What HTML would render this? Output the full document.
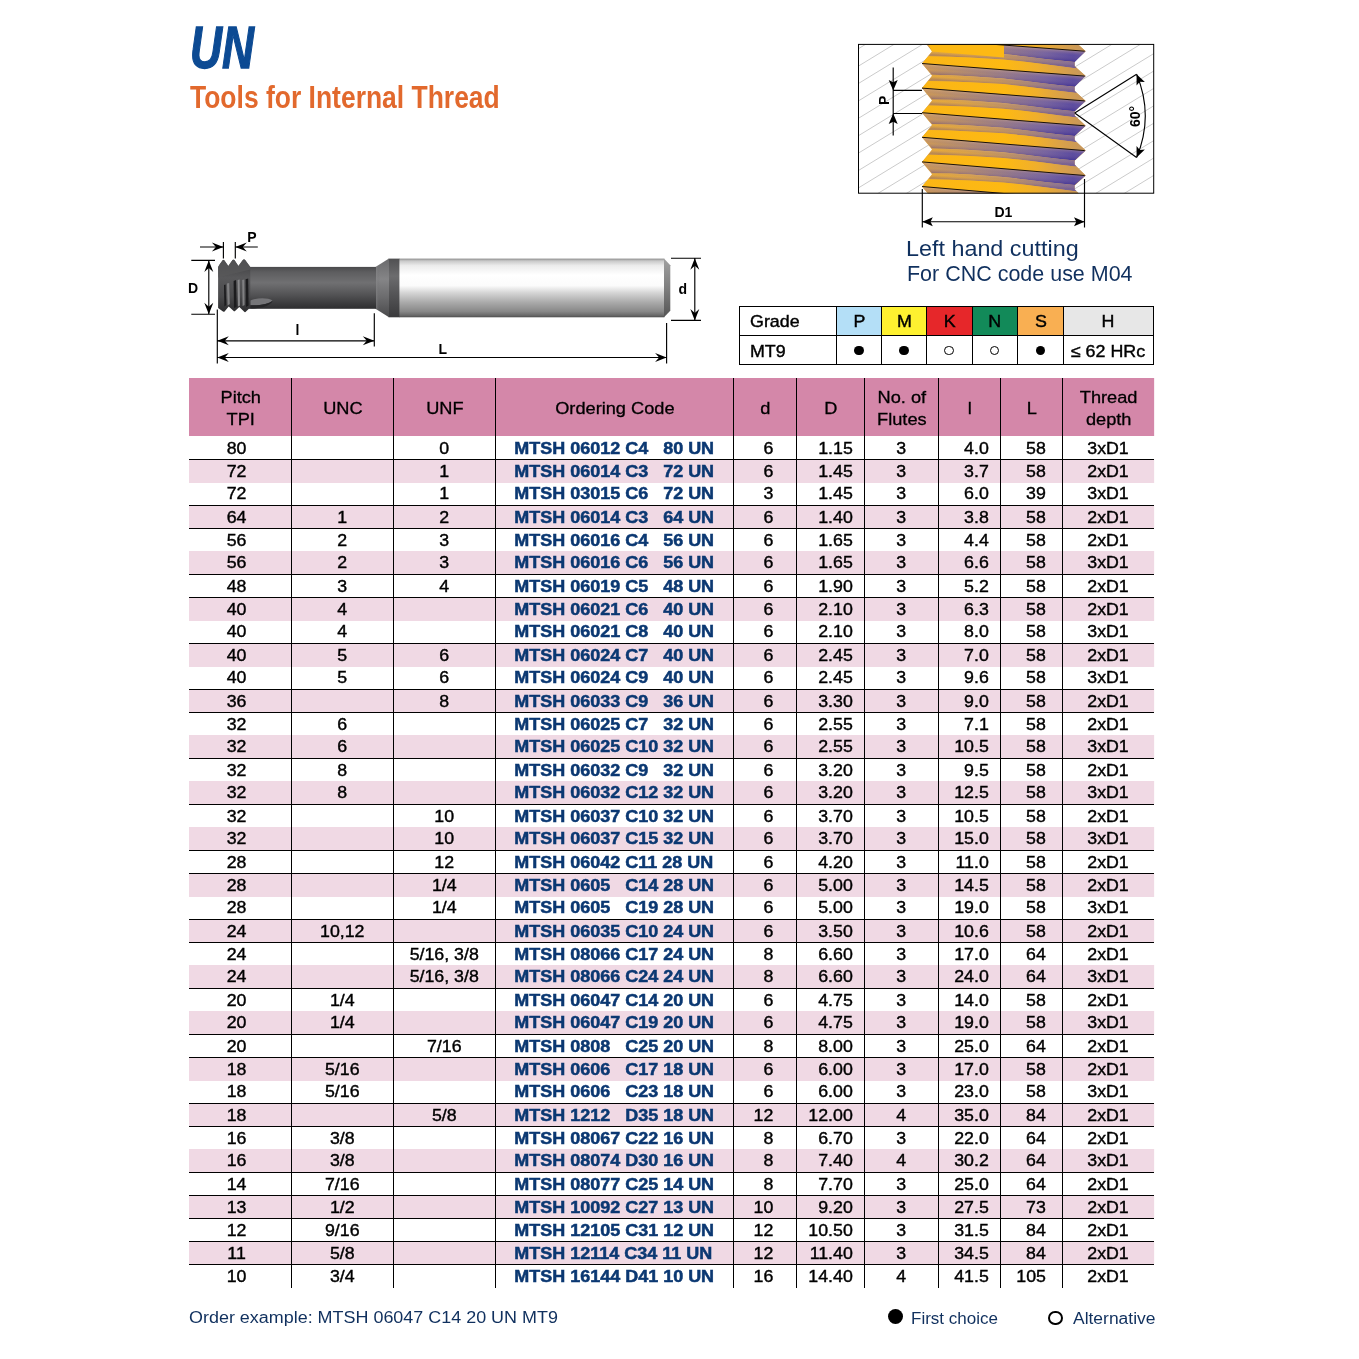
<!DOCTYPE html>
<html lang="en"><head><meta charset="utf-8"><title>UN Tools for Internal Thread</title>
<style>
html,body{margin:0;padding:0;background:#fff;}
body{width:1359px;height:1359px;position:relative;overflow:hidden;font-family:"Liberation Sans",Arial,sans-serif;color:#000;}
.abs{position:absolute;}
#tbl{position:absolute;left:189px;top:0;width:902px;height:1359px;transform-origin:0 0;transform:scaleX(1.07);}
#tbl div{position:absolute;}
.hd{background:#d487a9;}
.pk{background:#f0d9e4;}
.t{font-size:16.6px;line-height:23px;height:23px;white-space:pre;text-align:center;-webkit-text-stroke:0.4px #000;}
.c{color:#0b3872;font-weight:bold;text-align:left;-webkit-text-stroke:0.5px #0b3872;transform-origin:0 0;transform:scaleX(1.0124);}
.r{text-align:right;}
.h{font-size:17.0px;line-height:22px;text-align:center;white-space:pre;-webkit-text-stroke:0.3px #000;}
.gt{font-size:17px;line-height:22px;white-space:pre;-webkit-text-stroke:0.4px #000;}
.vl{background:#000;width:1.3px;}
.hl{background:#000;height:1.2px;}
</style></head><body>

<div id="tbl">
<div class="hd" style="left:0;top:378.0px;width:901.68px;height:57.6px"></div>
<div class="pk" style="left:0;top:459.0px;width:901.68px;height:23.7px"></div>
<div class="pk" style="left:0;top:505.0px;width:901.68px;height:23.0px"></div>
<div class="pk" style="left:0;top:551.0px;width:901.68px;height:23.0px"></div>
<div class="pk" style="left:0;top:597.0px;width:901.68px;height:23.7px"></div>
<div class="pk" style="left:0;top:643.0px;width:901.68px;height:23.7px"></div>
<div class="pk" style="left:0;top:689.0px;width:901.68px;height:23.0px"></div>
<div class="pk" style="left:0;top:735.0px;width:901.68px;height:23.0px"></div>
<div class="pk" style="left:0;top:781.0px;width:901.68px;height:23.0px"></div>
<div class="pk" style="left:0;top:827.0px;width:901.68px;height:23.0px"></div>
<div class="pk" style="left:0;top:873.0px;width:901.68px;height:23.7px"></div>
<div class="pk" style="left:0;top:919.0px;width:901.68px;height:23.0px"></div>
<div class="pk" style="left:0;top:965.0px;width:901.68px;height:23.0px"></div>
<div class="pk" style="left:0;top:1011.0px;width:901.68px;height:23.0px"></div>
<div class="pk" style="left:0;top:1057.0px;width:901.68px;height:23.7px"></div>
<div class="pk" style="left:0;top:1103.0px;width:901.68px;height:23.0px"></div>
<div class="pk" style="left:0;top:1149.0px;width:901.68px;height:23.0px"></div>
<div class="pk" style="left:0;top:1195.0px;width:901.68px;height:23.0px"></div>
<div class="pk" style="left:0;top:1241.0px;width:901.68px;height:23.0px"></div>
<div class="h" style="left:0.60px;top:386.8px;width:95.56px">Pitch<br>TPI</div>
<div class="h" style="left:96.16px;top:397.8px;width:95.33px">UNC</div>
<div class="h" style="left:191.49px;top:397.8px;width:95.33px">UNF</div>
<div class="h" style="left:286.81px;top:397.8px;width:222.43px">Ordering Code</div>
<div class="h" style="left:509.24px;top:397.8px;width:58.88px">d</div>
<div class="h" style="left:568.12px;top:397.8px;width:63.55px">D</div>
<div class="h" style="left:631.67px;top:386.8px;width:69.16px">No. of<br>Flutes</div>
<div class="h" style="left:700.83px;top:397.8px;width:57.94px">l</div>
<div class="h" style="left:758.78px;top:397.8px;width:57.94px">L</div>
<div class="h" style="left:816.72px;top:386.8px;width:85.56px">Thread<br>depth</div>
<div class="t" style="left:-3.30px;top:436.8px;width:95.56px">80</div>
<div class="t" style="left:190.89px;top:436.8px;width:95.33px">0</div>
<div class="t c" style="left:304.02px;top:436.8px">MTSH 06012 C4   80 UN</div>
<div class="t r" style="left:508.64px;top:436.8px;width:37.43px">6</div>
<div class="t r" style="left:567.52px;top:436.8px;width:52.85px">1.15</div>
<div class="t" style="left:631.07px;top:436.8px;width:69.16px">3</div>
<div class="t r" style="left:700.23px;top:436.8px;width:47.24px">4.0</div>
<div class="t r" style="left:758.18px;top:436.8px;width:42.66px">58</div>
<div class="t" style="left:816.12px;top:436.8px;width:85.56px">3xD1</div>
<div class="t" style="left:-3.30px;top:460.2px;width:95.56px">72</div>
<div class="t" style="left:190.89px;top:460.2px;width:95.33px">1</div>
<div class="t c" style="left:304.02px;top:460.2px">MTSH 06014 C3   72 UN</div>
<div class="t r" style="left:508.64px;top:460.2px;width:37.43px">6</div>
<div class="t r" style="left:567.52px;top:460.2px;width:52.85px">1.45</div>
<div class="t" style="left:631.07px;top:460.2px;width:69.16px">3</div>
<div class="t r" style="left:700.23px;top:460.2px;width:47.24px">3.7</div>
<div class="t r" style="left:758.18px;top:460.2px;width:42.66px">58</div>
<div class="t" style="left:816.12px;top:460.2px;width:85.56px">2xD1</div>
<div class="t" style="left:-3.30px;top:482.4px;width:95.56px">72</div>
<div class="t" style="left:190.89px;top:482.4px;width:95.33px">1</div>
<div class="t c" style="left:304.02px;top:482.4px">MTSH 03015 C6   72 UN</div>
<div class="t r" style="left:508.64px;top:482.4px;width:37.43px">3</div>
<div class="t r" style="left:567.52px;top:482.4px;width:52.85px">1.45</div>
<div class="t" style="left:631.07px;top:482.4px;width:69.16px">3</div>
<div class="t r" style="left:700.23px;top:482.4px;width:47.24px">6.0</div>
<div class="t r" style="left:758.18px;top:482.4px;width:42.66px">39</div>
<div class="t" style="left:816.12px;top:482.4px;width:85.56px">3xD1</div>
<div class="t" style="left:-3.30px;top:505.8px;width:95.56px">64</div>
<div class="t" style="left:95.56px;top:505.8px;width:95.33px">1</div>
<div class="t" style="left:190.89px;top:505.8px;width:95.33px">2</div>
<div class="t c" style="left:304.02px;top:505.8px">MTSH 06014 C3   64 UN</div>
<div class="t r" style="left:508.64px;top:505.8px;width:37.43px">6</div>
<div class="t r" style="left:567.52px;top:505.8px;width:52.85px">1.40</div>
<div class="t" style="left:631.07px;top:505.8px;width:69.16px">3</div>
<div class="t r" style="left:700.23px;top:505.8px;width:47.24px">3.8</div>
<div class="t r" style="left:758.18px;top:505.8px;width:42.66px">58</div>
<div class="t" style="left:816.12px;top:505.8px;width:85.56px">2xD1</div>
<div class="t" style="left:-3.30px;top:529.2px;width:95.56px">56</div>
<div class="t" style="left:95.56px;top:529.2px;width:95.33px">2</div>
<div class="t" style="left:190.89px;top:529.2px;width:95.33px">3</div>
<div class="t c" style="left:304.02px;top:529.2px">MTSH 06016 C4   56 UN</div>
<div class="t r" style="left:508.64px;top:529.2px;width:37.43px">6</div>
<div class="t r" style="left:567.52px;top:529.2px;width:52.85px">1.65</div>
<div class="t" style="left:631.07px;top:529.2px;width:69.16px">3</div>
<div class="t r" style="left:700.23px;top:529.2px;width:47.24px">4.4</div>
<div class="t r" style="left:758.18px;top:529.2px;width:42.66px">58</div>
<div class="t" style="left:816.12px;top:529.2px;width:85.56px">2xD1</div>
<div class="t" style="left:-3.30px;top:551.4px;width:95.56px">56</div>
<div class="t" style="left:95.56px;top:551.4px;width:95.33px">2</div>
<div class="t" style="left:190.89px;top:551.4px;width:95.33px">3</div>
<div class="t c" style="left:304.02px;top:551.4px">MTSH 06016 C6   56 UN</div>
<div class="t r" style="left:508.64px;top:551.4px;width:37.43px">6</div>
<div class="t r" style="left:567.52px;top:551.4px;width:52.85px">1.65</div>
<div class="t" style="left:631.07px;top:551.4px;width:69.16px">3</div>
<div class="t r" style="left:700.23px;top:551.4px;width:47.24px">6.6</div>
<div class="t r" style="left:758.18px;top:551.4px;width:42.66px">58</div>
<div class="t" style="left:816.12px;top:551.4px;width:85.56px">3xD1</div>
<div class="t" style="left:-3.30px;top:574.8px;width:95.56px">48</div>
<div class="t" style="left:95.56px;top:574.8px;width:95.33px">3</div>
<div class="t" style="left:190.89px;top:574.8px;width:95.33px">4</div>
<div class="t c" style="left:304.02px;top:574.8px">MTSH 06019 C5   48 UN</div>
<div class="t r" style="left:508.64px;top:574.8px;width:37.43px">6</div>
<div class="t r" style="left:567.52px;top:574.8px;width:52.85px">1.90</div>
<div class="t" style="left:631.07px;top:574.8px;width:69.16px">3</div>
<div class="t r" style="left:700.23px;top:574.8px;width:47.24px">5.2</div>
<div class="t r" style="left:758.18px;top:574.8px;width:42.66px">58</div>
<div class="t" style="left:816.12px;top:574.8px;width:85.56px">2xD1</div>
<div class="t" style="left:-3.30px;top:598.2px;width:95.56px">40</div>
<div class="t" style="left:95.56px;top:598.2px;width:95.33px">4</div>
<div class="t c" style="left:304.02px;top:598.2px">MTSH 06021 C6   40 UN</div>
<div class="t r" style="left:508.64px;top:598.2px;width:37.43px">6</div>
<div class="t r" style="left:567.52px;top:598.2px;width:52.85px">2.10</div>
<div class="t" style="left:631.07px;top:598.2px;width:69.16px">3</div>
<div class="t r" style="left:700.23px;top:598.2px;width:47.24px">6.3</div>
<div class="t r" style="left:758.18px;top:598.2px;width:42.66px">58</div>
<div class="t" style="left:816.12px;top:598.2px;width:85.56px">2xD1</div>
<div class="t" style="left:-3.30px;top:620.4px;width:95.56px">40</div>
<div class="t" style="left:95.56px;top:620.4px;width:95.33px">4</div>
<div class="t c" style="left:304.02px;top:620.4px">MTSH 06021 C8   40 UN</div>
<div class="t r" style="left:508.64px;top:620.4px;width:37.43px">6</div>
<div class="t r" style="left:567.52px;top:620.4px;width:52.85px">2.10</div>
<div class="t" style="left:631.07px;top:620.4px;width:69.16px">3</div>
<div class="t r" style="left:700.23px;top:620.4px;width:47.24px">8.0</div>
<div class="t r" style="left:758.18px;top:620.4px;width:42.66px">58</div>
<div class="t" style="left:816.12px;top:620.4px;width:85.56px">3xD1</div>
<div class="t" style="left:-3.30px;top:644.2px;width:95.56px">40</div>
<div class="t" style="left:95.56px;top:644.2px;width:95.33px">5</div>
<div class="t" style="left:190.89px;top:644.2px;width:95.33px">6</div>
<div class="t c" style="left:304.02px;top:644.2px">MTSH 06024 C7   40 UN</div>
<div class="t r" style="left:508.64px;top:644.2px;width:37.43px">6</div>
<div class="t r" style="left:567.52px;top:644.2px;width:52.85px">2.45</div>
<div class="t" style="left:631.07px;top:644.2px;width:69.16px">3</div>
<div class="t r" style="left:700.23px;top:644.2px;width:47.24px">7.0</div>
<div class="t r" style="left:758.18px;top:644.2px;width:42.66px">58</div>
<div class="t" style="left:816.12px;top:644.2px;width:85.56px">2xD1</div>
<div class="t" style="left:-3.30px;top:666.4px;width:95.56px">40</div>
<div class="t" style="left:95.56px;top:666.4px;width:95.33px">5</div>
<div class="t" style="left:190.89px;top:666.4px;width:95.33px">6</div>
<div class="t c" style="left:304.02px;top:666.4px">MTSH 06024 C9   40 UN</div>
<div class="t r" style="left:508.64px;top:666.4px;width:37.43px">6</div>
<div class="t r" style="left:567.52px;top:666.4px;width:52.85px">2.45</div>
<div class="t" style="left:631.07px;top:666.4px;width:69.16px">3</div>
<div class="t r" style="left:700.23px;top:666.4px;width:47.24px">9.6</div>
<div class="t r" style="left:758.18px;top:666.4px;width:42.66px">58</div>
<div class="t" style="left:816.12px;top:666.4px;width:85.56px">3xD1</div>
<div class="t" style="left:-3.30px;top:689.8px;width:95.56px">36</div>
<div class="t" style="left:190.89px;top:689.8px;width:95.33px">8</div>
<div class="t c" style="left:304.02px;top:689.8px">MTSH 06033 C9   36 UN</div>
<div class="t r" style="left:508.64px;top:689.8px;width:37.43px">6</div>
<div class="t r" style="left:567.52px;top:689.8px;width:52.85px">3.30</div>
<div class="t" style="left:631.07px;top:689.8px;width:69.16px">3</div>
<div class="t r" style="left:700.23px;top:689.8px;width:47.24px">9.0</div>
<div class="t r" style="left:758.18px;top:689.8px;width:42.66px">58</div>
<div class="t" style="left:816.12px;top:689.8px;width:85.56px">2xD1</div>
<div class="t" style="left:-3.30px;top:713.2px;width:95.56px">32</div>
<div class="t" style="left:95.56px;top:713.2px;width:95.33px">6</div>
<div class="t c" style="left:304.02px;top:713.2px">MTSH 06025 C7   32 UN</div>
<div class="t r" style="left:508.64px;top:713.2px;width:37.43px">6</div>
<div class="t r" style="left:567.52px;top:713.2px;width:52.85px">2.55</div>
<div class="t" style="left:631.07px;top:713.2px;width:69.16px">3</div>
<div class="t r" style="left:700.23px;top:713.2px;width:47.24px">7.1</div>
<div class="t r" style="left:758.18px;top:713.2px;width:42.66px">58</div>
<div class="t" style="left:816.12px;top:713.2px;width:85.56px">2xD1</div>
<div class="t" style="left:-3.30px;top:735.4px;width:95.56px">32</div>
<div class="t" style="left:95.56px;top:735.4px;width:95.33px">6</div>
<div class="t c" style="left:304.02px;top:735.4px">MTSH 06025 C10 32 UN</div>
<div class="t r" style="left:508.64px;top:735.4px;width:37.43px">6</div>
<div class="t r" style="left:567.52px;top:735.4px;width:52.85px">2.55</div>
<div class="t" style="left:631.07px;top:735.4px;width:69.16px">3</div>
<div class="t r" style="left:700.23px;top:735.4px;width:47.24px">10.5</div>
<div class="t r" style="left:758.18px;top:735.4px;width:42.66px">58</div>
<div class="t" style="left:816.12px;top:735.4px;width:85.56px">3xD1</div>
<div class="t" style="left:-3.30px;top:759.2px;width:95.56px">32</div>
<div class="t" style="left:95.56px;top:759.2px;width:95.33px">8</div>
<div class="t c" style="left:304.02px;top:759.2px">MTSH 06032 C9   32 UN</div>
<div class="t r" style="left:508.64px;top:759.2px;width:37.43px">6</div>
<div class="t r" style="left:567.52px;top:759.2px;width:52.85px">3.20</div>
<div class="t" style="left:631.07px;top:759.2px;width:69.16px">3</div>
<div class="t r" style="left:700.23px;top:759.2px;width:47.24px">9.5</div>
<div class="t r" style="left:758.18px;top:759.2px;width:42.66px">58</div>
<div class="t" style="left:816.12px;top:759.2px;width:85.56px">2xD1</div>
<div class="t" style="left:-3.30px;top:781.4px;width:95.56px">32</div>
<div class="t" style="left:95.56px;top:781.4px;width:95.33px">8</div>
<div class="t c" style="left:304.02px;top:781.4px">MTSH 06032 C12 32 UN</div>
<div class="t r" style="left:508.64px;top:781.4px;width:37.43px">6</div>
<div class="t r" style="left:567.52px;top:781.4px;width:52.85px">3.20</div>
<div class="t" style="left:631.07px;top:781.4px;width:69.16px">3</div>
<div class="t r" style="left:700.23px;top:781.4px;width:47.24px">12.5</div>
<div class="t r" style="left:758.18px;top:781.4px;width:42.66px">58</div>
<div class="t" style="left:816.12px;top:781.4px;width:85.56px">3xD1</div>
<div class="t" style="left:-3.30px;top:805.2px;width:95.56px">32</div>
<div class="t" style="left:190.89px;top:805.2px;width:95.33px">10</div>
<div class="t c" style="left:304.02px;top:805.2px">MTSH 06037 C10 32 UN</div>
<div class="t r" style="left:508.64px;top:805.2px;width:37.43px">6</div>
<div class="t r" style="left:567.52px;top:805.2px;width:52.85px">3.70</div>
<div class="t" style="left:631.07px;top:805.2px;width:69.16px">3</div>
<div class="t r" style="left:700.23px;top:805.2px;width:47.24px">10.5</div>
<div class="t r" style="left:758.18px;top:805.2px;width:42.66px">58</div>
<div class="t" style="left:816.12px;top:805.2px;width:85.56px">2xD1</div>
<div class="t" style="left:-3.30px;top:827.4px;width:95.56px">32</div>
<div class="t" style="left:190.89px;top:827.4px;width:95.33px">10</div>
<div class="t c" style="left:304.02px;top:827.4px">MTSH 06037 C15 32 UN</div>
<div class="t r" style="left:508.64px;top:827.4px;width:37.43px">6</div>
<div class="t r" style="left:567.52px;top:827.4px;width:52.85px">3.70</div>
<div class="t" style="left:631.07px;top:827.4px;width:69.16px">3</div>
<div class="t r" style="left:700.23px;top:827.4px;width:47.24px">15.0</div>
<div class="t r" style="left:758.18px;top:827.4px;width:42.66px">58</div>
<div class="t" style="left:816.12px;top:827.4px;width:85.56px">3xD1</div>
<div class="t" style="left:-3.30px;top:850.8px;width:95.56px">28</div>
<div class="t" style="left:190.89px;top:850.8px;width:95.33px">12</div>
<div class="t c" style="left:304.02px;top:850.8px">MTSH 06042 C11 28 UN</div>
<div class="t r" style="left:508.64px;top:850.8px;width:37.43px">6</div>
<div class="t r" style="left:567.52px;top:850.8px;width:52.85px">4.20</div>
<div class="t" style="left:631.07px;top:850.8px;width:69.16px">3</div>
<div class="t r" style="left:700.23px;top:850.8px;width:47.24px">11.0</div>
<div class="t r" style="left:758.18px;top:850.8px;width:42.66px">58</div>
<div class="t" style="left:816.12px;top:850.8px;width:85.56px">2xD1</div>
<div class="t" style="left:-3.30px;top:874.2px;width:95.56px">28</div>
<div class="t" style="left:190.89px;top:874.2px;width:95.33px">1/4</div>
<div class="t c" style="left:304.02px;top:874.2px">MTSH 0605   C14 28 UN</div>
<div class="t r" style="left:508.64px;top:874.2px;width:37.43px">6</div>
<div class="t r" style="left:567.52px;top:874.2px;width:52.85px">5.00</div>
<div class="t" style="left:631.07px;top:874.2px;width:69.16px">3</div>
<div class="t r" style="left:700.23px;top:874.2px;width:47.24px">14.5</div>
<div class="t r" style="left:758.18px;top:874.2px;width:42.66px">58</div>
<div class="t" style="left:816.12px;top:874.2px;width:85.56px">2xD1</div>
<div class="t" style="left:-3.30px;top:896.4px;width:95.56px">28</div>
<div class="t" style="left:190.89px;top:896.4px;width:95.33px">1/4</div>
<div class="t c" style="left:304.02px;top:896.4px">MTSH 0605   C19 28 UN</div>
<div class="t r" style="left:508.64px;top:896.4px;width:37.43px">6</div>
<div class="t r" style="left:567.52px;top:896.4px;width:52.85px">5.00</div>
<div class="t" style="left:631.07px;top:896.4px;width:69.16px">3</div>
<div class="t r" style="left:700.23px;top:896.4px;width:47.24px">19.0</div>
<div class="t r" style="left:758.18px;top:896.4px;width:42.66px">58</div>
<div class="t" style="left:816.12px;top:896.4px;width:85.56px">3xD1</div>
<div class="t" style="left:-3.30px;top:919.8px;width:95.56px">24</div>
<div class="t" style="left:95.56px;top:919.8px;width:95.33px">10,12</div>
<div class="t c" style="left:304.02px;top:919.8px">MTSH 06035 C10 24 UN</div>
<div class="t r" style="left:508.64px;top:919.8px;width:37.43px">6</div>
<div class="t r" style="left:567.52px;top:919.8px;width:52.85px">3.50</div>
<div class="t" style="left:631.07px;top:919.8px;width:69.16px">3</div>
<div class="t r" style="left:700.23px;top:919.8px;width:47.24px">10.6</div>
<div class="t r" style="left:758.18px;top:919.8px;width:42.66px">58</div>
<div class="t" style="left:816.12px;top:919.8px;width:85.56px">2xD1</div>
<div class="t" style="left:-3.30px;top:943.2px;width:95.56px">24</div>
<div class="t" style="left:190.89px;top:943.2px;width:95.33px">5/16, 3/8</div>
<div class="t c" style="left:304.02px;top:943.2px">MTSH 08066 C17 24 UN</div>
<div class="t r" style="left:508.64px;top:943.2px;width:37.43px">8</div>
<div class="t r" style="left:567.52px;top:943.2px;width:52.85px">6.60</div>
<div class="t" style="left:631.07px;top:943.2px;width:69.16px">3</div>
<div class="t r" style="left:700.23px;top:943.2px;width:47.24px">17.0</div>
<div class="t r" style="left:758.18px;top:943.2px;width:42.66px">64</div>
<div class="t" style="left:816.12px;top:943.2px;width:85.56px">2xD1</div>
<div class="t" style="left:-3.30px;top:965.4px;width:95.56px">24</div>
<div class="t" style="left:190.89px;top:965.4px;width:95.33px">5/16, 3/8</div>
<div class="t c" style="left:304.02px;top:965.4px">MTSH 08066 C24 24 UN</div>
<div class="t r" style="left:508.64px;top:965.4px;width:37.43px">8</div>
<div class="t r" style="left:567.52px;top:965.4px;width:52.85px">6.60</div>
<div class="t" style="left:631.07px;top:965.4px;width:69.16px">3</div>
<div class="t r" style="left:700.23px;top:965.4px;width:47.24px">24.0</div>
<div class="t r" style="left:758.18px;top:965.4px;width:42.66px">64</div>
<div class="t" style="left:816.12px;top:965.4px;width:85.56px">3xD1</div>
<div class="t" style="left:-3.30px;top:989.2px;width:95.56px">20</div>
<div class="t" style="left:95.56px;top:989.2px;width:95.33px">1/4</div>
<div class="t c" style="left:304.02px;top:989.2px">MTSH 06047 C14 20 UN</div>
<div class="t r" style="left:508.64px;top:989.2px;width:37.43px">6</div>
<div class="t r" style="left:567.52px;top:989.2px;width:52.85px">4.75</div>
<div class="t" style="left:631.07px;top:989.2px;width:69.16px">3</div>
<div class="t r" style="left:700.23px;top:989.2px;width:47.24px">14.0</div>
<div class="t r" style="left:758.18px;top:989.2px;width:42.66px">58</div>
<div class="t" style="left:816.12px;top:989.2px;width:85.56px">2xD1</div>
<div class="t" style="left:-3.30px;top:1011.4px;width:95.56px">20</div>
<div class="t" style="left:95.56px;top:1011.4px;width:95.33px">1/4</div>
<div class="t c" style="left:304.02px;top:1011.4px">MTSH 06047 C19 20 UN</div>
<div class="t r" style="left:508.64px;top:1011.4px;width:37.43px">6</div>
<div class="t r" style="left:567.52px;top:1011.4px;width:52.85px">4.75</div>
<div class="t" style="left:631.07px;top:1011.4px;width:69.16px">3</div>
<div class="t r" style="left:700.23px;top:1011.4px;width:47.24px">19.0</div>
<div class="t r" style="left:758.18px;top:1011.4px;width:42.66px">58</div>
<div class="t" style="left:816.12px;top:1011.4px;width:85.56px">3xD1</div>
<div class="t" style="left:-3.30px;top:1034.8px;width:95.56px">20</div>
<div class="t" style="left:190.89px;top:1034.8px;width:95.33px">7/16</div>
<div class="t c" style="left:304.02px;top:1034.8px">MTSH 0808   C25 20 UN</div>
<div class="t r" style="left:508.64px;top:1034.8px;width:37.43px">8</div>
<div class="t r" style="left:567.52px;top:1034.8px;width:52.85px">8.00</div>
<div class="t" style="left:631.07px;top:1034.8px;width:69.16px">3</div>
<div class="t r" style="left:700.23px;top:1034.8px;width:47.24px">25.0</div>
<div class="t r" style="left:758.18px;top:1034.8px;width:42.66px">64</div>
<div class="t" style="left:816.12px;top:1034.8px;width:85.56px">2xD1</div>
<div class="t" style="left:-3.30px;top:1058.2px;width:95.56px">18</div>
<div class="t" style="left:95.56px;top:1058.2px;width:95.33px">5/16</div>
<div class="t c" style="left:304.02px;top:1058.2px">MTSH 0606   C17 18 UN</div>
<div class="t r" style="left:508.64px;top:1058.2px;width:37.43px">6</div>
<div class="t r" style="left:567.52px;top:1058.2px;width:52.85px">6.00</div>
<div class="t" style="left:631.07px;top:1058.2px;width:69.16px">3</div>
<div class="t r" style="left:700.23px;top:1058.2px;width:47.24px">17.0</div>
<div class="t r" style="left:758.18px;top:1058.2px;width:42.66px">58</div>
<div class="t" style="left:816.12px;top:1058.2px;width:85.56px">2xD1</div>
<div class="t" style="left:-3.30px;top:1080.4px;width:95.56px">18</div>
<div class="t" style="left:95.56px;top:1080.4px;width:95.33px">5/16</div>
<div class="t c" style="left:304.02px;top:1080.4px">MTSH 0606   C23 18 UN</div>
<div class="t r" style="left:508.64px;top:1080.4px;width:37.43px">6</div>
<div class="t r" style="left:567.52px;top:1080.4px;width:52.85px">6.00</div>
<div class="t" style="left:631.07px;top:1080.4px;width:69.16px">3</div>
<div class="t r" style="left:700.23px;top:1080.4px;width:47.24px">23.0</div>
<div class="t r" style="left:758.18px;top:1080.4px;width:42.66px">58</div>
<div class="t" style="left:816.12px;top:1080.4px;width:85.56px">3xD1</div>
<div class="t" style="left:-3.30px;top:1103.8px;width:95.56px">18</div>
<div class="t" style="left:190.89px;top:1103.8px;width:95.33px">5/8</div>
<div class="t c" style="left:304.02px;top:1103.8px">MTSH 1212   D35 18 UN</div>
<div class="t r" style="left:508.64px;top:1103.8px;width:37.43px">12</div>
<div class="t r" style="left:567.52px;top:1103.8px;width:52.85px">12.00</div>
<div class="t" style="left:631.07px;top:1103.8px;width:69.16px">4</div>
<div class="t r" style="left:700.23px;top:1103.8px;width:47.24px">35.0</div>
<div class="t r" style="left:758.18px;top:1103.8px;width:42.66px">84</div>
<div class="t" style="left:816.12px;top:1103.8px;width:85.56px">2xD1</div>
<div class="t" style="left:-3.30px;top:1127.2px;width:95.56px">16</div>
<div class="t" style="left:95.56px;top:1127.2px;width:95.33px">3/8</div>
<div class="t c" style="left:304.02px;top:1127.2px">MTSH 08067 C22 16 UN</div>
<div class="t r" style="left:508.64px;top:1127.2px;width:37.43px">8</div>
<div class="t r" style="left:567.52px;top:1127.2px;width:52.85px">6.70</div>
<div class="t" style="left:631.07px;top:1127.2px;width:69.16px">3</div>
<div class="t r" style="left:700.23px;top:1127.2px;width:47.24px">22.0</div>
<div class="t r" style="left:758.18px;top:1127.2px;width:42.66px">64</div>
<div class="t" style="left:816.12px;top:1127.2px;width:85.56px">2xD1</div>
<div class="t" style="left:-3.30px;top:1149.4px;width:95.56px">16</div>
<div class="t" style="left:95.56px;top:1149.4px;width:95.33px">3/8</div>
<div class="t c" style="left:304.02px;top:1149.4px">MTSH 08074 D30 16 UN</div>
<div class="t r" style="left:508.64px;top:1149.4px;width:37.43px">8</div>
<div class="t r" style="left:567.52px;top:1149.4px;width:52.85px">7.40</div>
<div class="t" style="left:631.07px;top:1149.4px;width:69.16px">4</div>
<div class="t r" style="left:700.23px;top:1149.4px;width:47.24px">30.2</div>
<div class="t r" style="left:758.18px;top:1149.4px;width:42.66px">64</div>
<div class="t" style="left:816.12px;top:1149.4px;width:85.56px">3xD1</div>
<div class="t" style="left:-3.30px;top:1172.8px;width:95.56px">14</div>
<div class="t" style="left:95.56px;top:1172.8px;width:95.33px">7/16</div>
<div class="t c" style="left:304.02px;top:1172.8px">MTSH 08077 C25 14 UN</div>
<div class="t r" style="left:508.64px;top:1172.8px;width:37.43px">8</div>
<div class="t r" style="left:567.52px;top:1172.8px;width:52.85px">7.70</div>
<div class="t" style="left:631.07px;top:1172.8px;width:69.16px">3</div>
<div class="t r" style="left:700.23px;top:1172.8px;width:47.24px">25.0</div>
<div class="t r" style="left:758.18px;top:1172.8px;width:42.66px">64</div>
<div class="t" style="left:816.12px;top:1172.8px;width:85.56px">2xD1</div>
<div class="t" style="left:-3.30px;top:1195.8px;width:95.56px">13</div>
<div class="t" style="left:95.56px;top:1195.8px;width:95.33px">1/2</div>
<div class="t c" style="left:304.02px;top:1195.8px">MTSH 10092 C27 13 UN</div>
<div class="t r" style="left:508.64px;top:1195.8px;width:37.43px">10</div>
<div class="t r" style="left:567.52px;top:1195.8px;width:52.85px">9.20</div>
<div class="t" style="left:631.07px;top:1195.8px;width:69.16px">3</div>
<div class="t r" style="left:700.23px;top:1195.8px;width:47.24px">27.5</div>
<div class="t r" style="left:758.18px;top:1195.8px;width:42.66px">73</div>
<div class="t" style="left:816.12px;top:1195.8px;width:85.56px">2xD1</div>
<div class="t" style="left:-3.30px;top:1218.8px;width:95.56px">12</div>
<div class="t" style="left:95.56px;top:1218.8px;width:95.33px">9/16</div>
<div class="t c" style="left:304.02px;top:1218.8px">MTSH 12105 C31 12 UN</div>
<div class="t r" style="left:508.64px;top:1218.8px;width:37.43px">12</div>
<div class="t r" style="left:567.52px;top:1218.8px;width:52.85px">10.50</div>
<div class="t" style="left:631.07px;top:1218.8px;width:69.16px">3</div>
<div class="t r" style="left:700.23px;top:1218.8px;width:47.24px">31.5</div>
<div class="t r" style="left:758.18px;top:1218.8px;width:42.66px">84</div>
<div class="t" style="left:816.12px;top:1218.8px;width:85.56px">2xD1</div>
<div class="t" style="left:-3.30px;top:1241.8px;width:95.56px">11</div>
<div class="t" style="left:95.56px;top:1241.8px;width:95.33px">5/8</div>
<div class="t c" style="left:304.02px;top:1241.8px">MTSH 12114 C34 11 UN</div>
<div class="t r" style="left:508.64px;top:1241.8px;width:37.43px">12</div>
<div class="t r" style="left:567.52px;top:1241.8px;width:52.85px">11.40</div>
<div class="t" style="left:631.07px;top:1241.8px;width:69.16px">3</div>
<div class="t r" style="left:700.23px;top:1241.8px;width:47.24px">34.5</div>
<div class="t r" style="left:758.18px;top:1241.8px;width:42.66px">84</div>
<div class="t" style="left:816.12px;top:1241.8px;width:85.56px">2xD1</div>
<div class="t" style="left:-3.30px;top:1264.8px;width:95.56px">10</div>
<div class="t" style="left:95.56px;top:1264.8px;width:95.33px">3/4</div>
<div class="t c" style="left:304.02px;top:1264.8px">MTSH 16144 D41 10 UN</div>
<div class="t r" style="left:508.64px;top:1264.8px;width:37.43px">16</div>
<div class="t r" style="left:567.52px;top:1264.8px;width:52.85px">14.40</div>
<div class="t" style="left:631.07px;top:1264.8px;width:69.16px">4</div>
<div class="t r" style="left:700.23px;top:1264.8px;width:47.24px">41.5</div>
<div class="t r" style="left:758.18px;top:1264.8px;width:42.66px">105</div>
<div class="t" style="left:816.12px;top:1264.8px;width:85.56px">2xD1</div>
</div>
<div id="lines">
<div class="abs vl" style="left:290.60px;top:378.0px;height:909.6px"></div>
<div class="abs vl" style="left:392.60px;top:378.0px;height:909.6px"></div>
<div class="abs vl" style="left:494.60px;top:378.0px;height:909.6px"></div>
<div class="abs vl" style="left:732.60px;top:378.0px;height:909.6px"></div>
<div class="abs vl" style="left:795.60px;top:378.0px;height:909.6px"></div>
<div class="abs vl" style="left:863.60px;top:378.0px;height:909.6px"></div>
<div class="abs vl" style="left:937.60px;top:378.0px;height:909.6px"></div>
<div class="abs vl" style="left:999.60px;top:378.0px;height:909.6px"></div>
<div class="abs vl" style="left:1061.60px;top:378.0px;height:909.6px"></div>
<div class="abs hl" style="left:189px;top:458.8px;width:964.80px"></div>
<div class="abs hl" style="left:189px;top:504.8px;width:964.80px"></div>
<div class="abs hl" style="left:189px;top:527.8px;width:964.80px"></div>
<div class="abs hl" style="left:189px;top:573.8px;width:964.80px"></div>
<div class="abs hl" style="left:189px;top:596.8px;width:964.80px"></div>
<div class="abs hl" style="left:189px;top:642.8px;width:964.80px"></div>
<div class="abs hl" style="left:189px;top:688.8px;width:964.80px"></div>
<div class="abs hl" style="left:189px;top:711.8px;width:964.80px"></div>
<div class="abs hl" style="left:189px;top:757.8px;width:964.80px"></div>
<div class="abs hl" style="left:189px;top:803.8px;width:964.80px"></div>
<div class="abs hl" style="left:189px;top:849.8px;width:964.80px"></div>
<div class="abs hl" style="left:189px;top:872.8px;width:964.80px"></div>
<div class="abs hl" style="left:189px;top:918.8px;width:964.80px"></div>
<div class="abs hl" style="left:189px;top:941.8px;width:964.80px"></div>
<div class="abs hl" style="left:189px;top:987.8px;width:964.80px"></div>
<div class="abs hl" style="left:189px;top:1033.8px;width:964.80px"></div>
<div class="abs hl" style="left:189px;top:1056.8px;width:964.80px"></div>
<div class="abs hl" style="left:189px;top:1102.8px;width:964.80px"></div>
<div class="abs hl" style="left:189px;top:1125.8px;width:964.80px"></div>
<div class="abs hl" style="left:189px;top:1171.8px;width:964.80px"></div>
<div class="abs hl" style="left:189px;top:1194.8px;width:964.80px"></div>
<div class="abs hl" style="left:189px;top:1217.8px;width:964.80px"></div>
<div class="abs hl" style="left:189px;top:1240.8px;width:964.80px"></div>
<div class="abs hl" style="left:189px;top:1263.8px;width:964.80px"></div>
</div>
<!-- ===== titles ===== -->
<div class="abs" id="t1" style="left:190px;top:14.2px;font-size:58.5px;line-height:68px;font-weight:bold;font-style:italic;color:#0c4a93;-webkit-text-stroke:1.3px #0c4a93;transform-origin:0 0;transform:scaleX(0.757);white-space:pre;">UN</div>
<div class="abs" id="t2" style="left:189.5px;top:80.2px;font-size:31px;line-height:36px;font-weight:bold;color:#e2692d;transform-origin:0 0;transform:scaleX(0.8537);white-space:pre;">Tools for Internal Thread</div>

<!-- ===== note ===== -->
<div class="abs" id="n1" style="left:906.2px;top:235.5px;font-size:22.3px;line-height:25.4px;color:#10305e;transform-origin:0 0;transform:scaleX(1.047);white-space:pre;">Left hand cutting</div>
<div class="abs" id="n2" style="left:906.7px;top:261.2px;font-size:22.3px;line-height:25.4px;color:#10305e;transform-origin:0 0;transform:scaleX(0.963);white-space:pre;">For CNC code use M04</div>

<!-- ===== footer ===== -->
<div class="abs" id="f1" style="left:188.7px;top:1305.6px;font-size:17.3px;line-height:22px;color:#10305e;transform-origin:0 0;transform:scaleX(1.038);white-space:pre;">Order example: MTSH 06047 C14 20 UN MT9</div>
<div class="abs" style="left:888.1px;top:1308.5px;width:15px;height:15px;border-radius:50%;background:#000;"></div>
<div class="abs" id="f2" style="left:911.4px;top:1306.6px;font-size:17.3px;line-height:22px;color:#10305e;transform-origin:0 0;transform:scaleX(0.984);white-space:pre;">First choice</div>
<div class="abs" style="left:1048.4px;top:1310.9px;width:10.2px;height:10.2px;border:2.4px solid #000;border-radius:50%;"></div>
<div class="abs" id="f3" style="left:1072.5px;top:1306.6px;font-size:17.3px;line-height:22px;color:#10305e;transform-origin:0 0;transform:scaleX(1.01);white-space:pre;">Alternative</div>

<!-- ===== tool drawing ===== -->
<svg class="abs" style="left:180px;top:225px" width="540" height="150" viewBox="180 225 540 150">
<defs>
<linearGradient id="gShank" x1="0" y1="0" x2="0" y2="1">
<stop offset="0" stop-color="#8c8c8c"/><stop offset="0.04" stop-color="#c9c9c9"/><stop offset="0.12" stop-color="#ececec"/><stop offset="0.28" stop-color="#ffffff"/><stop offset="0.46" stop-color="#fbfbfb"/><stop offset="0.58" stop-color="#d6d6d6"/><stop offset="0.75" stop-color="#a9a9a9"/><stop offset="0.9" stop-color="#888888"/><stop offset="0.965" stop-color="#6a6a6a"/><stop offset="1" stop-color="#4e4e4e"/>
</linearGradient>
<linearGradient id="gNeck" x1="0" y1="0" x2="0" y2="1">
<stop offset="0" stop-color="#4a4a4c"/><stop offset="0.12" stop-color="#5d5d5f"/><stop offset="0.38" stop-color="#707072"/><stop offset="0.6" stop-color="#5a5a5c"/><stop offset="0.85" stop-color="#3e3e40"/><stop offset="1" stop-color="#2e2e30"/>
</linearGradient>
<linearGradient id="gBand" x1="0" y1="0" x2="0" y2="1">
<stop offset="0" stop-color="#505052"/><stop offset="0.3" stop-color="#6c6c6e"/><stop offset="0.6" stop-color="#555557"/><stop offset="1" stop-color="#3a3a3c"/>
</linearGradient>
<linearGradient id="gTaperX" x1="0" y1="0" x2="1" y2="0">
<stop offset="0" stop-color="#d8d8d8" stop-opacity="0.9"/><stop offset="0.25" stop-color="#8a8a8c" stop-opacity="0.5"/><stop offset="1" stop-color="#606062" stop-opacity="0"/>
</linearGradient>
<linearGradient id="gTaper" x1="0" y1="0" x2="0" y2="1">
<stop offset="0" stop-color="#6a6a6c"/><stop offset="0.35" stop-color="#858587"/><stop offset="0.65" stop-color="#6c6c6e"/><stop offset="1" stop-color="#4a4a4c"/>
</linearGradient>
<linearGradient id="gHead" x1="0" y1="0" x2="0" y2="1">
<stop offset="0" stop-color="#3c3c3e"/><stop offset="0.35" stop-color="#58585a"/><stop offset="0.7" stop-color="#4a4a4c"/><stop offset="1" stop-color="#2c2c2e"/>
</linearGradient>
<linearGradient id="gCh" x1="0" y1="0" x2="0" y2="1">
<stop offset="0" stop-color="#a0a0a0"/><stop offset="0.5" stop-color="#7e7e7e"/><stop offset="1" stop-color="#555"/>
</linearGradient>
<path id="ah" d="M0,0 L-11.5,-4.5 L-7.5,0 L-11.5,4.5 Z"/>
</defs>
<!-- shank -->
<rect x="399" y="258.6" width="265.3" height="58.7" fill="url(#gShank)"/>
<path d="M664,258.6 L670.3,265.2 L670.3,310.8 L664,317.3 Z" fill="url(#gCh)"/>
<!-- band + taper -->
<rect x="388.6" y="258.6" width="10.8" height="58.7" fill="url(#gBand)"/>
<path d="M375.5,266.9 L389,258.6 L389,317.3 L375.5,308.8 Z" fill="url(#gTaper)"/>
<path d="M374.6,268 L380,264 L380,311 L374.6,307.5 Z" fill="url(#gTaperX)"/>
<!-- neck -->
<rect x="249" y="266.9" width="127" height="41.9" fill="url(#gNeck)"/>
<!-- flute highlight -->
<path d="M250.3,300.5 C257,297.6 268,297.4 272.6,300.6 C270,304.2 258,305.8 250.3,305.2 Z" fill="#757578"/>
<path d="M250.3,305.2 C258,305.8 270,304.2 272.6,300.6 C272,305 262,308.6 250.3,308.6 Z" fill="#262628"/>

<!-- head -->
<path d="M218.1,267 L219.5,264.5 L222.6,260.2 Q223.4,259.2 224.3,260.2 L228.3,266 L232.5,260 Q233.4,258.8 234.4,260 L238.4,266 L243,259.8 Q244,258.6 245,259.8 L250.3,266.9 L250.3,307.5 L246,311.6 Q245,312.8 244,311.6 L239.3,307 L235.3,310.8 Q234.4,311.9 233.4,310.8 L228.7,306.6 L224.8,311.2 Q223.9,312.3 223,311.4 L218.1,307.9 Z" fill="url(#gHead)"/>
<path d="M218.1,277.5 L250.3,269.5 L250.3,266.9 L245,259.8 L243,259.8 L238.4,266 L234.4,260 L232.5,260 L228.3,266 L224.3,260.2 L222.6,260.2 L218.1,267 Z" fill="#58585a" opacity="0.75"/>
<path d="M224,285 L225.6,284.5 L226.2,305 L224.4,306.5 Z" fill="#1c1c1e"/>
<path d="M227,283.5 L229.2,283 L229.8,304 L227.6,305.5 Z" fill="#808082"/>
<path d="M233.6,281 L236,280 L236.6,307 L234,308 Z" fill="#1c1c1e"/>
<path d="M237.6,280 L239.6,279.5 L240,305.5 L238,306.5 Z" fill="#8a8a8c"/>
<path d="M242.2,280 L244.2,279.5 L244.6,305 L242.6,306 Z" fill="#808082"/>
<path d="M245.6,279.2 L248.2,278.6 L248.6,305.5 L246,307 Z" fill="#1c1c1e"/>
<!-- dimension lines -->
<g stroke="#000" stroke-width="1.15" fill="none">
<path d="M200,247 H223.4 M235.3,247 H257.8"/>
<path d="M223.4,242.1 V258.5 M235.3,242.1 V258.5"/>
<path d="M191.3,260.4 H215 M191.3,314.2 H215 M208.8,260.4 V314.2"/>
<path d="M217.3,309.5 V363.4 M374.3,313.2 V346.5 M217.3,340.8 H374.3 M217.3,357.5 H666.6 M666.6,322.9 V363.4"/>
<path d="M671,258.2 H701 M671,320.4 H701 M694.8,258.2 V320.4"/>
</g>
<g fill="#000">
<use href="#ah" transform="translate(223.4,247)"/>
<use href="#ah" transform="translate(235.3,247) rotate(180)"/>
<use href="#ah" transform="translate(208.8,260.4) rotate(-90)"/>
<use href="#ah" transform="translate(208.8,314.2) rotate(90)"/>
<use href="#ah" transform="translate(217.3,340.8) rotate(180)"/>
<use href="#ah" transform="translate(374.3,340.8)"/>
<use href="#ah" transform="translate(217.3,357.5) rotate(180)"/>
<use href="#ah" transform="translate(666.6,357.5)"/>
<use href="#ah" transform="translate(694.8,258.2) rotate(-90)"/>
<use href="#ah" transform="translate(694.8,320.4) rotate(90)"/>
</g>
<g font-family="Liberation Sans, Arial, sans-serif" font-weight="bold" font-size="14" fill="#000">
<text x="247.2" y="242.1">P</text>
<text x="187.9" y="292.5">D</text>
<text x="295.6" y="335.2">l</text>
<text x="438.4" y="353.8">L</text>
<text x="678.4" y="294.4">d</text>
</g>
</svg>

<!-- ===== thread diagram ===== -->
<svg class="abs" style="left:850px;top:35px" width="320" height="200" viewBox="850 35 320 200">
<defs>
<clipPath id="cpBox"><rect x="858.5" y="44.4" width="295.2" height="148.8"/></clipPath>
<linearGradient id="gLt" gradientUnits="userSpaceOnUse" x1="922" y1="0" x2="1086" y2="0">
<stop offset="0" stop-color="#fbb616"/><stop offset="0.5" stop-color="#fdb913"/><stop offset="0.7" stop-color="#f0af2c"/><stop offset="0.86" stop-color="#d8a04a"/><stop offset="1" stop-color="#c4955e"/>
</linearGradient>
<linearGradient id="gMd" gradientUnits="userSpaceOnUse" x1="922" y1="0" x2="1086" y2="0">
<stop offset="0" stop-color="#eaac38"/><stop offset="0.25" stop-color="#dda444"/><stop offset="0.55" stop-color="#bb9066"/><stop offset="0.8" stop-color="#957a8c"/><stop offset="1" stop-color="#80689a"/>
</linearGradient>
<linearGradient id="gDk" gradientUnits="userSpaceOnUse" x1="922" y1="0" x2="1086" y2="0">
<stop offset="0" stop-color="#cf9a55"/><stop offset="0.25" stop-color="#b48c6e"/><stop offset="0.5" stop-color="#977b88"/><stop offset="0.75" stop-color="#7865a0"/><stop offset="0.92" stop-color="#5c4ca0"/><stop offset="1" stop-color="#6555a0"/>
</linearGradient>
<path id="ah2" d="M0,0 L-10.5,-4.5 L-8.2,0 L-10.5,4.5 Z"/>
</defs>
<g clip-path="url(#cpBox)" stroke="#cbcbcb" stroke-width="1" fill="none">
<path d="M855,33.4 L940,-18.5"/>
<path d="M855,50.8 L940,-1.1"/>
<path d="M855,68.2 L940,16.3"/>
<path d="M855,85.6 L940,33.7"/>
<path d="M855,103.0 L940,51.1"/>
<path d="M855,120.4 L940,68.5"/>
<path d="M855,137.8 L940,85.9"/>
<path d="M855,155.2 L940,103.3"/>
<path d="M855,172.6 L940,120.7"/>
<path d="M855,190.0 L940,138.1"/>
<path d="M855,207.4 L940,155.5"/>
<path d="M855,224.8 L940,172.9"/>
<path d="M855,242.2 L940,190.3"/>
<path d="M855,259.6 L940,207.7"/>
<path d="M855,277.0 L940,225.1"/>
<path d="M855,294.4 L940,242.5"/>
<path d="M855,311.8 L940,259.9"/>
<path d="M855,329.2 L940,277.3"/>
<path d="M855,346.6 L940,294.7"/>
<path d="M855,364.0 L940,312.1"/>
<path d="M855,381.4 L940,329.5"/>
<path d="M855,398.8 L940,346.9"/>
<path d="M855,416.2 L940,364.3"/>
<path d="M855,433.6 L940,381.7"/>
<path d="M1160,15.0 L1060,76.0"/>
<path d="M1160,32.4 L1060,93.4"/>
<path d="M1160,49.8 L1060,110.8"/>
<path d="M1160,67.2 L1060,128.2"/>
<path d="M1160,84.6 L1060,145.6"/>
<path d="M1160,102.0 L1060,163.0"/>
<path d="M1160,119.4 L1060,180.4"/>
<path d="M1160,136.8 L1060,197.8"/>
<path d="M1160,154.2 L1060,215.2"/>
<path d="M1160,171.6 L1060,232.6"/>
<path d="M1160,189.0 L1060,250.0"/>
<path d="M1160,206.4 L1060,267.4"/>
<path d="M1160,223.8 L1060,284.8"/>
<path d="M1160,241.2 L1060,302.2"/>
<path d="M1160,258.6 L1060,319.6"/>
<path d="M1160,276.0 L1060,337.0"/>
<path d="M1160,293.4 L1060,354.4"/>
<path d="M1160,310.8 L1060,371.8"/>
<path d="M1160,328.2 L1060,389.2"/>
<path d="M1160,345.6 L1060,406.6"/>
<path d="M1160,363.0 L1060,424.0"/>
<path d="M1160,380.4 L1060,441.4"/>
<path d="M1160,397.8 L1060,458.8"/>
<path d="M1160,415.2 L1060,476.2"/>
</g>
<g clip-path="url(#cpBox)">
<path d="M922.0,14.3 L932.0,26.6 L922.0,38.9 L932.0,51.2 L922.0,63.5 L932.0,75.8 L922.0,88.1 L932.0,100.4 L922.0,112.7 L932.0,125.0 L922.0,137.3 L932.0,149.6 L922.0,161.9 L932.0,174.2 L922.0,186.5 L932.0,198.8 L922.0,211.1 L932.0,223.4 L1074.7,240.0 L1074.7,235.3 L1085.7,225.2 L1074.7,215.2 L1074.7,210.5 L1085.7,200.4 L1074.7,190.3 L1074.7,185.6 L1085.7,175.5 L1074.7,165.4 L1074.7,160.7 L1085.7,150.6 L1074.7,140.6 L1074.7,135.9 L1085.7,125.8 L1074.7,115.7 L1074.7,111.0 L1085.7,100.9 L1074.7,90.9 L1074.7,86.2 L1085.7,76.1 L1074.7,66.0 L1074.7,61.3 L1085.7,51.2 L1074.7,41.1 L1074.7,36.4 L1085.7,26.3 L1074.7,16.3 L1074.7,11.6 L1085.7,1.5 Z" fill="#e0a84a"/>
<path d="M922.0,14.3 L1085.7,26.3 L1074.7,37.5 L1060.0,36.0 L1045.0,34.3 L1025.0,31.8 L1003.0,29.3 L970.0,27.0 L950.0,26.0 L932.0,25.6 Z" fill="url(#gDk)"/>
<linearGradient id="vd0" gradientUnits="userSpaceOnUse" x1="1000.0" y1="20.3" x2="999.2" y2="30.8"><stop offset="0" stop-color="#eac090" stop-opacity="0.42"/><stop offset="0.5" stop-color="#806090" stop-opacity="0"/><stop offset="1" stop-color="#2a1c88" stop-opacity="0.36"/></linearGradient>
<path d="M922.0,14.3 L1085.7,26.3 L1074.7,37.5 L1060.0,36.0 L1045.0,34.3 L1025.0,31.8 L1003.0,29.3 L970.0,27.0 L950.0,26.0 L932.0,25.6 Z" fill="url(#vd0)"/>
<path d="M932.0,25.6 L950.0,26.0 L970.0,27.0 L1003.0,29.3 L1025.0,31.8 L1045.0,34.3 L1060.0,36.0 L1074.7,37.5 L1074.7,41.6 L1077.0,43.8 L1060.0,41.7 L1045.0,39.7 L1025.0,37.2 L1003.0,34.9 L970.0,33.0 L950.0,32.2 L928.3,31.7 L932.0,27.4 Z" fill="url(#gMd)"/>
<linearGradient id="vm0" gradientUnits="userSpaceOnUse" x1="1000.0" y1="29.1" x2="999.5" y2="35.3"><stop offset="0" stop-color="#e8c090" stop-opacity="0.25"/><stop offset="0.5" stop-color="#806090" stop-opacity="0"/><stop offset="1" stop-color="#4a3890" stop-opacity="0.28"/></linearGradient>
<path d="M932.0,25.6 L950.0,26.0 L970.0,27.0 L1003.0,29.3 L1025.0,31.8 L1045.0,34.3 L1060.0,36.0 L1074.7,37.5 L1074.7,41.6 L1077.0,43.8 L1060.0,41.7 L1045.0,39.7 L1025.0,37.2 L1003.0,34.9 L970.0,33.0 L950.0,32.2 L928.3,31.7 L932.0,27.4 Z" fill="url(#vm0)"/>
<path d="M928.3,31.7 L950.0,32.2 L970.0,33.0 L1003.0,34.9 L1025.0,37.2 L1045.0,39.7 L1060.0,41.7 L1077.0,43.8 L1085.7,51.2 L922.0,38.9 Z" fill="url(#gLt)"/>
<path d="M922.0,38.9 L1085.7,51.2 L1074.7,62.1 L1060.0,60.6 L1045.0,58.9 L1025.0,56.4 L1003.0,53.9 L970.0,51.6 L950.0,50.6 L932.0,50.2 Z" fill="url(#gDk)"/>
<linearGradient id="vd1" gradientUnits="userSpaceOnUse" x1="1000.0" y1="44.9" x2="999.2" y2="55.4"><stop offset="0" stop-color="#eac090" stop-opacity="0.42"/><stop offset="0.5" stop-color="#806090" stop-opacity="0"/><stop offset="1" stop-color="#2a1c88" stop-opacity="0.36"/></linearGradient>
<path d="M922.0,38.9 L1085.7,51.2 L1074.7,62.1 L1060.0,60.6 L1045.0,58.9 L1025.0,56.4 L1003.0,53.9 L970.0,51.6 L950.0,50.6 L932.0,50.2 Z" fill="url(#vd1)"/>
<path d="M932.0,50.2 L950.0,50.6 L970.0,51.6 L1003.0,53.9 L1025.0,56.4 L1045.0,58.9 L1060.0,60.6 L1074.7,62.1 L1074.7,66.2 L1077.0,68.4 L1060.0,66.3 L1045.0,64.3 L1025.0,61.8 L1003.0,59.5 L970.0,57.6 L950.0,56.8 L928.3,56.3 L932.0,52.0 Z" fill="url(#gMd)"/>
<linearGradient id="vm1" gradientUnits="userSpaceOnUse" x1="1000.0" y1="53.7" x2="999.5" y2="59.9"><stop offset="0" stop-color="#e8c090" stop-opacity="0.25"/><stop offset="0.5" stop-color="#806090" stop-opacity="0"/><stop offset="1" stop-color="#4a3890" stop-opacity="0.28"/></linearGradient>
<path d="M932.0,50.2 L950.0,50.6 L970.0,51.6 L1003.0,53.9 L1025.0,56.4 L1045.0,58.9 L1060.0,60.6 L1074.7,62.1 L1074.7,66.2 L1077.0,68.4 L1060.0,66.3 L1045.0,64.3 L1025.0,61.8 L1003.0,59.5 L970.0,57.6 L950.0,56.8 L928.3,56.3 L932.0,52.0 Z" fill="url(#vm1)"/>
<path d="M928.3,56.3 L950.0,56.8 L970.0,57.6 L1003.0,59.5 L1025.0,61.8 L1045.0,64.3 L1060.0,66.3 L1077.0,68.4 L1085.7,76.1 L922.0,63.5 Z" fill="url(#gLt)"/>
<path d="M922.0,63.5 L1085.7,76.1 L1074.7,86.7 L1060.0,85.2 L1045.0,83.5 L1025.0,81.0 L1003.0,78.5 L970.0,76.2 L950.0,75.2 L932.0,74.8 Z" fill="url(#gDk)"/>
<linearGradient id="vd2" gradientUnits="userSpaceOnUse" x1="1000.0" y1="69.5" x2="999.2" y2="80.0"><stop offset="0" stop-color="#eac090" stop-opacity="0.42"/><stop offset="0.5" stop-color="#806090" stop-opacity="0"/><stop offset="1" stop-color="#2a1c88" stop-opacity="0.36"/></linearGradient>
<path d="M922.0,63.5 L1085.7,76.1 L1074.7,86.7 L1060.0,85.2 L1045.0,83.5 L1025.0,81.0 L1003.0,78.5 L970.0,76.2 L950.0,75.2 L932.0,74.8 Z" fill="url(#vd2)"/>
<path d="M932.0,74.8 L950.0,75.2 L970.0,76.2 L1003.0,78.5 L1025.0,81.0 L1045.0,83.5 L1060.0,85.2 L1074.7,86.7 L1074.7,90.8 L1077.0,93.0 L1060.0,90.9 L1045.0,88.9 L1025.0,86.4 L1003.0,84.1 L970.0,82.2 L950.0,81.4 L928.3,80.9 L932.0,76.6 Z" fill="url(#gMd)"/>
<linearGradient id="vm2" gradientUnits="userSpaceOnUse" x1="1000.0" y1="78.3" x2="999.5" y2="84.5"><stop offset="0" stop-color="#e8c090" stop-opacity="0.25"/><stop offset="0.5" stop-color="#806090" stop-opacity="0"/><stop offset="1" stop-color="#4a3890" stop-opacity="0.28"/></linearGradient>
<path d="M932.0,74.8 L950.0,75.2 L970.0,76.2 L1003.0,78.5 L1025.0,81.0 L1045.0,83.5 L1060.0,85.2 L1074.7,86.7 L1074.7,90.8 L1077.0,93.0 L1060.0,90.9 L1045.0,88.9 L1025.0,86.4 L1003.0,84.1 L970.0,82.2 L950.0,81.4 L928.3,80.9 L932.0,76.6 Z" fill="url(#vm2)"/>
<path d="M928.3,80.9 L950.0,81.4 L970.0,82.2 L1003.0,84.1 L1025.0,86.4 L1045.0,88.9 L1060.0,90.9 L1077.0,93.0 L1085.7,100.9 L922.0,88.1 Z" fill="url(#gLt)"/>
<path d="M922.0,88.1 L1085.7,100.9 L1074.7,111.3 L1060.0,109.8 L1045.0,108.1 L1025.0,105.6 L1003.0,103.1 L970.0,100.8 L950.0,99.8 L932.0,99.4 Z" fill="url(#gDk)"/>
<linearGradient id="vd3" gradientUnits="userSpaceOnUse" x1="1000.0" y1="94.1" x2="999.2" y2="104.6"><stop offset="0" stop-color="#eac090" stop-opacity="0.42"/><stop offset="0.5" stop-color="#806090" stop-opacity="0"/><stop offset="1" stop-color="#2a1c88" stop-opacity="0.36"/></linearGradient>
<path d="M922.0,88.1 L1085.7,100.9 L1074.7,111.3 L1060.0,109.8 L1045.0,108.1 L1025.0,105.6 L1003.0,103.1 L970.0,100.8 L950.0,99.8 L932.0,99.4 Z" fill="url(#vd3)"/>
<path d="M932.0,99.4 L950.0,99.8 L970.0,100.8 L1003.0,103.1 L1025.0,105.6 L1045.0,108.1 L1060.0,109.8 L1074.7,111.3 L1074.7,115.4 L1077.0,117.6 L1060.0,115.5 L1045.0,113.5 L1025.0,111.0 L1003.0,108.7 L970.0,106.8 L950.0,106.0 L928.3,105.5 L932.0,101.2 Z" fill="url(#gMd)"/>
<linearGradient id="vm3" gradientUnits="userSpaceOnUse" x1="1000.0" y1="102.9" x2="999.5" y2="109.1"><stop offset="0" stop-color="#e8c090" stop-opacity="0.25"/><stop offset="0.5" stop-color="#806090" stop-opacity="0"/><stop offset="1" stop-color="#4a3890" stop-opacity="0.28"/></linearGradient>
<path d="M932.0,99.4 L950.0,99.8 L970.0,100.8 L1003.0,103.1 L1025.0,105.6 L1045.0,108.1 L1060.0,109.8 L1074.7,111.3 L1074.7,115.4 L1077.0,117.6 L1060.0,115.5 L1045.0,113.5 L1025.0,111.0 L1003.0,108.7 L970.0,106.8 L950.0,106.0 L928.3,105.5 L932.0,101.2 Z" fill="url(#vm3)"/>
<path d="M928.3,105.5 L950.0,106.0 L970.0,106.8 L1003.0,108.7 L1025.0,111.0 L1045.0,113.5 L1060.0,115.5 L1077.0,117.6 L1085.7,125.8 L922.0,112.7 Z" fill="url(#gLt)"/>
<path d="M922.0,112.7 L1085.7,125.8 L1074.7,135.9 L1060.0,134.4 L1045.0,132.7 L1025.0,130.2 L1003.0,127.7 L970.0,125.4 L950.0,124.4 L932.0,124.0 Z" fill="url(#gDk)"/>
<linearGradient id="vd4" gradientUnits="userSpaceOnUse" x1="1000.0" y1="118.7" x2="999.2" y2="129.2"><stop offset="0" stop-color="#eac090" stop-opacity="0.42"/><stop offset="0.5" stop-color="#806090" stop-opacity="0"/><stop offset="1" stop-color="#2a1c88" stop-opacity="0.36"/></linearGradient>
<path d="M922.0,112.7 L1085.7,125.8 L1074.7,135.9 L1060.0,134.4 L1045.0,132.7 L1025.0,130.2 L1003.0,127.7 L970.0,125.4 L950.0,124.4 L932.0,124.0 Z" fill="url(#vd4)"/>
<path d="M932.0,124.0 L950.0,124.4 L970.0,125.4 L1003.0,127.7 L1025.0,130.2 L1045.0,132.7 L1060.0,134.4 L1074.7,135.9 L1074.7,140.0 L1077.0,142.2 L1060.0,140.1 L1045.0,138.1 L1025.0,135.6 L1003.0,133.3 L970.0,131.4 L950.0,130.6 L928.3,130.1 L932.0,125.8 Z" fill="url(#gMd)"/>
<linearGradient id="vm4" gradientUnits="userSpaceOnUse" x1="1000.0" y1="127.5" x2="999.5" y2="133.7"><stop offset="0" stop-color="#e8c090" stop-opacity="0.25"/><stop offset="0.5" stop-color="#806090" stop-opacity="0"/><stop offset="1" stop-color="#4a3890" stop-opacity="0.28"/></linearGradient>
<path d="M932.0,124.0 L950.0,124.4 L970.0,125.4 L1003.0,127.7 L1025.0,130.2 L1045.0,132.7 L1060.0,134.4 L1074.7,135.9 L1074.7,140.0 L1077.0,142.2 L1060.0,140.1 L1045.0,138.1 L1025.0,135.6 L1003.0,133.3 L970.0,131.4 L950.0,130.6 L928.3,130.1 L932.0,125.8 Z" fill="url(#vm4)"/>
<path d="M928.3,130.1 L950.0,130.6 L970.0,131.4 L1003.0,133.3 L1025.0,135.6 L1045.0,138.1 L1060.0,140.1 L1077.0,142.2 L1085.7,150.6 L922.0,137.3 Z" fill="url(#gLt)"/>
<path d="M922.0,137.3 L1085.7,150.6 L1074.7,160.5 L1060.0,159.0 L1045.0,157.3 L1025.0,154.8 L1003.0,152.3 L970.0,150.0 L950.0,149.0 L932.0,148.6 Z" fill="url(#gDk)"/>
<linearGradient id="vd5" gradientUnits="userSpaceOnUse" x1="1000.0" y1="143.3" x2="999.2" y2="153.8"><stop offset="0" stop-color="#eac090" stop-opacity="0.42"/><stop offset="0.5" stop-color="#806090" stop-opacity="0"/><stop offset="1" stop-color="#2a1c88" stop-opacity="0.36"/></linearGradient>
<path d="M922.0,137.3 L1085.7,150.6 L1074.7,160.5 L1060.0,159.0 L1045.0,157.3 L1025.0,154.8 L1003.0,152.3 L970.0,150.0 L950.0,149.0 L932.0,148.6 Z" fill="url(#vd5)"/>
<path d="M932.0,148.6 L950.0,149.0 L970.0,150.0 L1003.0,152.3 L1025.0,154.8 L1045.0,157.3 L1060.0,159.0 L1074.7,160.5 L1074.7,164.6 L1077.0,166.8 L1060.0,164.7 L1045.0,162.7 L1025.0,160.2 L1003.0,157.9 L970.0,156.0 L950.0,155.2 L928.3,154.7 L932.0,150.4 Z" fill="url(#gMd)"/>
<linearGradient id="vm5" gradientUnits="userSpaceOnUse" x1="1000.0" y1="152.1" x2="999.5" y2="158.3"><stop offset="0" stop-color="#e8c090" stop-opacity="0.25"/><stop offset="0.5" stop-color="#806090" stop-opacity="0"/><stop offset="1" stop-color="#4a3890" stop-opacity="0.28"/></linearGradient>
<path d="M932.0,148.6 L950.0,149.0 L970.0,150.0 L1003.0,152.3 L1025.0,154.8 L1045.0,157.3 L1060.0,159.0 L1074.7,160.5 L1074.7,164.6 L1077.0,166.8 L1060.0,164.7 L1045.0,162.7 L1025.0,160.2 L1003.0,157.9 L970.0,156.0 L950.0,155.2 L928.3,154.7 L932.0,150.4 Z" fill="url(#vm5)"/>
<path d="M928.3,154.7 L950.0,155.2 L970.0,156.0 L1003.0,157.9 L1025.0,160.2 L1045.0,162.7 L1060.0,164.7 L1077.0,166.8 L1085.7,175.5 L922.0,161.9 Z" fill="url(#gLt)"/>
<path d="M922.0,161.9 L1085.7,175.5 L1074.7,185.1 L1060.0,183.6 L1045.0,181.9 L1025.0,179.4 L1003.0,176.9 L970.0,174.6 L950.0,173.6 L932.0,173.2 Z" fill="url(#gDk)"/>
<linearGradient id="vd6" gradientUnits="userSpaceOnUse" x1="1000.0" y1="167.9" x2="999.2" y2="178.4"><stop offset="0" stop-color="#eac090" stop-opacity="0.42"/><stop offset="0.5" stop-color="#806090" stop-opacity="0"/><stop offset="1" stop-color="#2a1c88" stop-opacity="0.36"/></linearGradient>
<path d="M922.0,161.9 L1085.7,175.5 L1074.7,185.1 L1060.0,183.6 L1045.0,181.9 L1025.0,179.4 L1003.0,176.9 L970.0,174.6 L950.0,173.6 L932.0,173.2 Z" fill="url(#vd6)"/>
<path d="M932.0,173.2 L950.0,173.6 L970.0,174.6 L1003.0,176.9 L1025.0,179.4 L1045.0,181.9 L1060.0,183.6 L1074.7,185.1 L1074.7,189.2 L1077.0,191.4 L1060.0,189.3 L1045.0,187.3 L1025.0,184.8 L1003.0,182.5 L970.0,180.6 L950.0,179.8 L928.3,179.3 L932.0,175.0 Z" fill="url(#gMd)"/>
<linearGradient id="vm6" gradientUnits="userSpaceOnUse" x1="1000.0" y1="176.7" x2="999.5" y2="182.9"><stop offset="0" stop-color="#e8c090" stop-opacity="0.25"/><stop offset="0.5" stop-color="#806090" stop-opacity="0"/><stop offset="1" stop-color="#4a3890" stop-opacity="0.28"/></linearGradient>
<path d="M932.0,173.2 L950.0,173.6 L970.0,174.6 L1003.0,176.9 L1025.0,179.4 L1045.0,181.9 L1060.0,183.6 L1074.7,185.1 L1074.7,189.2 L1077.0,191.4 L1060.0,189.3 L1045.0,187.3 L1025.0,184.8 L1003.0,182.5 L970.0,180.6 L950.0,179.8 L928.3,179.3 L932.0,175.0 Z" fill="url(#vm6)"/>
<path d="M928.3,179.3 L950.0,179.8 L970.0,180.6 L1003.0,182.5 L1025.0,184.8 L1045.0,187.3 L1060.0,189.3 L1077.0,191.4 L1085.7,200.4 L922.0,186.5 Z" fill="url(#gLt)"/>
<path d="M922.0,186.5 L1085.7,200.4 L1074.7,209.7 L1060.0,208.2 L1045.0,206.5 L1025.0,204.0 L1003.0,201.5 L970.0,199.2 L950.0,198.2 L932.0,197.8 Z" fill="url(#gDk)"/>
<linearGradient id="vd7" gradientUnits="userSpaceOnUse" x1="1000.0" y1="192.5" x2="999.2" y2="203.0"><stop offset="0" stop-color="#eac090" stop-opacity="0.42"/><stop offset="0.5" stop-color="#806090" stop-opacity="0"/><stop offset="1" stop-color="#2a1c88" stop-opacity="0.36"/></linearGradient>
<path d="M922.0,186.5 L1085.7,200.4 L1074.7,209.7 L1060.0,208.2 L1045.0,206.5 L1025.0,204.0 L1003.0,201.5 L970.0,199.2 L950.0,198.2 L932.0,197.8 Z" fill="url(#vd7)"/>
<path d="M932.0,197.8 L950.0,198.2 L970.0,199.2 L1003.0,201.5 L1025.0,204.0 L1045.0,206.5 L1060.0,208.2 L1074.7,209.7 L1074.7,213.8 L1077.0,216.0 L1060.0,213.9 L1045.0,211.9 L1025.0,209.4 L1003.0,207.1 L970.0,205.2 L950.0,204.4 L928.3,203.9 L932.0,199.6 Z" fill="url(#gMd)"/>
<linearGradient id="vm7" gradientUnits="userSpaceOnUse" x1="1000.0" y1="201.3" x2="999.5" y2="207.5"><stop offset="0" stop-color="#e8c090" stop-opacity="0.25"/><stop offset="0.5" stop-color="#806090" stop-opacity="0"/><stop offset="1" stop-color="#4a3890" stop-opacity="0.28"/></linearGradient>
<path d="M932.0,197.8 L950.0,198.2 L970.0,199.2 L1003.0,201.5 L1025.0,204.0 L1045.0,206.5 L1060.0,208.2 L1074.7,209.7 L1074.7,213.8 L1077.0,216.0 L1060.0,213.9 L1045.0,211.9 L1025.0,209.4 L1003.0,207.1 L970.0,205.2 L950.0,204.4 L928.3,203.9 L932.0,199.6 Z" fill="url(#vm7)"/>
<path d="M928.3,203.9 L950.0,204.4 L970.0,205.2 L1003.0,207.1 L1025.0,209.4 L1045.0,211.9 L1060.0,213.9 L1077.0,216.0 L1085.7,225.2 L922.0,211.1 Z" fill="url(#gLt)"/>
<path d="M922.0,211.1 L1085.7,225.2 L1074.7,234.3 L1060.0,232.8 L1045.0,231.1 L1025.0,228.6 L1003.0,226.1 L970.0,223.8 L950.0,222.8 L932.0,222.4 Z" fill="url(#gDk)"/>
<linearGradient id="vd8" gradientUnits="userSpaceOnUse" x1="1000.0" y1="217.1" x2="999.2" y2="227.6"><stop offset="0" stop-color="#eac090" stop-opacity="0.42"/><stop offset="0.5" stop-color="#806090" stop-opacity="0"/><stop offset="1" stop-color="#2a1c88" stop-opacity="0.36"/></linearGradient>
<path d="M922.0,211.1 L1085.7,225.2 L1074.7,234.3 L1060.0,232.8 L1045.0,231.1 L1025.0,228.6 L1003.0,226.1 L970.0,223.8 L950.0,222.8 L932.0,222.4 Z" fill="url(#vd8)"/>
<path d="M932.0,222.4 L950.0,222.8 L970.0,223.8 L1003.0,226.1 L1025.0,228.6 L1045.0,231.1 L1060.0,232.8 L1074.7,234.3 L1074.7,238.4 L1077.0,240.6 L1060.0,238.5 L1045.0,236.5 L1025.0,234.0 L1003.0,231.7 L970.0,229.8 L950.0,229.0 L928.3,228.5 L932.0,224.2 Z" fill="url(#gMd)"/>
<linearGradient id="vm8" gradientUnits="userSpaceOnUse" x1="1000.0" y1="225.9" x2="999.5" y2="232.1"><stop offset="0" stop-color="#e8c090" stop-opacity="0.25"/><stop offset="0.5" stop-color="#806090" stop-opacity="0"/><stop offset="1" stop-color="#4a3890" stop-opacity="0.28"/></linearGradient>
<path d="M932.0,222.4 L950.0,222.8 L970.0,223.8 L1003.0,226.1 L1025.0,228.6 L1045.0,231.1 L1060.0,232.8 L1074.7,234.3 L1074.7,238.4 L1077.0,240.6 L1060.0,238.5 L1045.0,236.5 L1025.0,234.0 L1003.0,231.7 L970.0,229.8 L950.0,229.0 L928.3,228.5 L932.0,224.2 Z" fill="url(#vm8)"/>
<path d="M928.3,228.5 L950.0,229.0 L970.0,229.8 L1003.0,231.7 L1025.0,234.0 L1045.0,236.5 L1060.0,238.5 L1077.0,240.6 L1085.7,250.1 L922.0,235.7 Z" fill="url(#gLt)"/>
<path d="M928,44 L1004,44 L1004,57.5 L932,51.5 Z" fill="#fdb914"/>
<g stroke="#1a1208" stroke-width="1" fill="none">
<path d="M922.0,14.3 L1084.7,26.3"/>
<path d="M922.0,38.9 L1084.7,51.2"/>
<path d="M922.0,63.5 L1084.7,76.1"/>
<path d="M922.0,88.1 L1084.7,100.9"/>
<path d="M922.0,112.7 L1084.7,125.8"/>
<path d="M922.0,137.3 L1084.7,150.6"/>
<path d="M922.0,161.9 L1084.7,175.5"/>
<path d="M922.0,186.5 L1084.7,200.4"/>
<path d="M922.0,211.1 L1084.7,225.2"/>
</g>
</g>
<rect x="858.5" y="44.4" width="295.2" height="148.8" fill="none" stroke="#000" stroke-width="1"/>
<g stroke="#000" stroke-width="1.15" fill="none">
<path d="M893.2,67.6 V135.5 M893.2,90.4 H922 M893.2,113.5 H922"/>
<path d="M1074.7,113 L1136.6,74.2 M1074.7,113 L1136.6,157.5"/>
<path d="M1136.6,74.2 Q1154,115.8 1136.6,157.5"/>
<path d="M922.3,189 V227.6 M1084.5,179 V227.6 M922.3,221.7 H1084.5"/>
</g>
<g fill="#000">
<use href="#ah2" transform="translate(893.2,90.4) rotate(90)"/>
<use href="#ah2" transform="translate(893.2,113.5) rotate(-90)"/>
<use href="#ah2" transform="translate(922.3,221.7) rotate(180)"/>
<use href="#ah2" transform="translate(1084.5,221.7)"/>
<use href="#ah2" transform="translate(1136.6,74.2) rotate(-113)"/>
<use href="#ah2" transform="translate(1136.6,157.5) rotate(113)"/>
</g>
<g font-family="Liberation Sans, Arial, sans-serif" font-weight="bold" font-size="14" fill="#000">
<text x="994.5" y="216.8">D1</text>
<text transform="translate(889,105) rotate(-90)">P</text>
<text transform="translate(1140,127) rotate(-90)">60°</text>
</g>
</svg>
<!-- ===== grade table ===== -->
<div class="abs" id="grade" style="left:0;top:0;width:1359px;height:400px;">
<div class="abs" style="left:739.7px;top:306.7px;width:96.8px;height:28.4px;background:#ffffff"></div>
<div class="abs" style="left:836.5px;top:306.7px;width:45.0px;height:28.4px;background:#b4dff7"></div>
<div class="abs" style="left:881.5px;top:306.7px;width:45.0px;height:28.4px;background:#fef130"></div>
<div class="abs" style="left:926.5px;top:306.7px;width:45.6px;height:28.4px;background:#e6272a"></div>
<div class="abs" style="left:972.1px;top:306.7px;width:45.4px;height:28.4px;background:#128a59"></div>
<div class="abs" style="left:1017.5px;top:306.7px;width:45.9px;height:28.4px;background:#f9af52"></div>
<div class="abs" style="left:1063.4px;top:306.7px;width:90.0px;height:28.4px;background:#e7e7e7"></div>
<div class="abs" style="left:739.2px;top:306.2px;width:414.7px;height:59.3px;border:1.1px solid #000;box-sizing:border-box"></div>
<div class="abs" style="left:739.7px;top:334.6px;width:413.7px;height:1.1px;background:#000"></div>
<div class="abs" style="left:836.0px;top:306.7px;width:1.1px;height:58.3px;background:#000"></div>
<div class="abs" style="left:881.0px;top:306.7px;width:1.1px;height:58.3px;background:#000"></div>
<div class="abs" style="left:926.0px;top:306.7px;width:1.1px;height:58.3px;background:#000"></div>
<div class="abs" style="left:971.6px;top:306.7px;width:1.1px;height:58.3px;background:#000"></div>
<div class="abs" style="left:1017.0px;top:306.7px;width:1.1px;height:58.3px;background:#000"></div>
<div class="abs" style="left:1062.9px;top:306.7px;width:1.1px;height:58.3px;background:#000"></div>
<div class="abs gt" style="left:750.3px;top:311.3px;transform-origin:0 0;transform:scaleX(1.05)">Grade</div>
<div class="abs gt" style="left:750.3px;top:340.7px;transform-origin:0 0;transform:scaleX(1.05)">MT9</div>
<div class="abs gt" style="left:836.5px;top:311.3px;width:45.0px;text-align:center;transform:scaleX(1.05)">P</div>
<div class="abs gt" style="left:881.5px;top:311.3px;width:45.0px;text-align:center;transform:scaleX(1.05)">M</div>
<div class="abs gt" style="left:926.5px;top:311.3px;width:45.6px;text-align:center;transform:scaleX(1.05)">K</div>
<div class="abs gt" style="left:972.1px;top:311.3px;width:45.4px;text-align:center;transform:scaleX(1.05)">N</div>
<div class="abs gt" style="left:1017.5px;top:311.3px;width:45.9px;text-align:center;transform:scaleX(1.05)">S</div>
<div class="abs gt" style="left:1063.4px;top:311.3px;width:90.0px;text-align:center;transform:scaleX(1.05)">H</div>
<div class="abs gt" style="left:1063.4px;top:340.7px;width:90.0px;text-align:center;transform:scaleX(1.05)">≤ 62 HRc</div>
<div class="abs" style="left:854.1px;top:345.5px;width:9.8px;height:9.8px;border-radius:50%;background:#000"></div>
<div class="abs" style="left:899.1px;top:345.5px;width:9.8px;height:9.8px;border-radius:50%;background:#000"></div>
<div class="abs" style="left:944.4px;top:345.5px;width:7.6px;height:7.6px;border-radius:50%;border:1.1px solid #000;background:#fff"></div>
<div class="abs" style="left:989.9px;top:345.5px;width:7.6px;height:7.6px;border-radius:50%;border:1.1px solid #000;background:#fff"></div>
<div class="abs" style="left:1035.5px;top:345.5px;width:9.8px;height:9.8px;border-radius:50%;background:#000"></div>
</div>
</body></html>
